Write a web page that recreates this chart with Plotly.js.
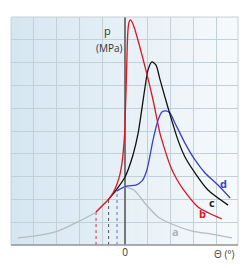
<!DOCTYPE html>
<html><head><meta charset="utf-8">
<script src="https://cdn.plot.ly/plotly-3.0.1.min.js"></script>
<style>html,body{margin:0;padding:0;background:#fff}#chart{width:250px;height:268px}</style>
</head><body><div id="chart"></div>
<script>
// curve a (grey)
const aX = [-4.7,-4.0,-2.95,-2.1,-1.27,-0.75,-0.35,0,0.4,0.9,1.45,2.05,2.95,3.8,4.7];
const aY = [0.31,0.39,0.61,1.0,1.45,1.97,2.37,2.54,2.4,1.8,1.23,0.92,0.61,0.48,0.31];
// curve b (red)
const bX = [-1.27,-1.01,-0.75,-0.53,-0.35,-0.22,-0.13,-0.07,-0.02,0.01,0.04,0.07,0.1,0.13,0.18,0.24,0.33,0.44,0.88,1.23,1.54,1.75,1.97,2.24,2.54,3.2,4.25];
const bY = [1.45,1.71,1.97,2.28,2.68,3.11,3.6,4.17,4.82,5.7,6.58,7.68,8.77,9.43,9.78,9.87,9.74,9.43,7.81,6.36,4.87,4.17,3.51,2.94,2.46,1.67,1.14];
// curve c (black)
const cX = [-0.75,-0.35,0,0.35,0.57,0.88,1.01,1.18,1.36,1.54,1.89,2.32,2.63,3.07,3.64,4.52];
const cY = [1.97,2.46,2.98,3.95,4.87,6.93,7.68,8.03,7.89,7.24,6.01,4.61,3.86,3.16,2.41,1.75];
// curve d (blue)
const dX = [-0.35,-0.13,0.13,0.48,0.75,0.96,1.23,1.45,1.62,1.8,1.97,2.19,2.63,3.07,3.51,4.08,4.61];
const dY = [2.37,2.5,2.59,2.63,2.81,3.29,4.61,5.48,5.83,5.88,5.79,5.35,4.47,3.73,3.16,2.63,2.06];
// branch points (dotted drop lines)
const dropX = [-1.27,-0.72,-0.35];
const dropTop = [1.45,2.0,2.37];
const dropColors = ['#e0303a','#555555','#6a70d0'];
// tick labels
const xTickVals = [-5,-4,-3,-2,-1,0,1,2,3,4];
const xTickText = ['','','','','','0','','','',''];
// labels
const curveLabels = ['a','b','c','d'];
const labelX = [2.2,3.4,3.82,4.3];
const labelY = [0.6,1.4,1.85,2.7];
const labelColors = ['#aab4ba','#e3141e','#222222','#3b3fc8'];

const traces = [];
dropX.forEach((x,i)=>{
  traces.push({x:[x,x],y:[0,dropTop[i]],mode:'lines',line:{color:dropColors[i],width:1,dash:'dot'},hoverinfo:'skip'});
});
traces.push({x:aX,y:aY,mode:'lines',line:{color:'#b3bcc1',width:1.3,shape:'spline',smoothing:0.7}});
traces.push({x:dX,y:dY,mode:'lines',line:{color:'#3b3fc8',width:1.3,shape:'spline',smoothing:0.7}});
traces.push({x:cX,y:cY,mode:'lines',line:{color:'#111111',width:1.3,shape:'spline',smoothing:0.7}});
traces.push({x:bX,y:bY,mode:'lines',line:{color:'#e3141e',width:1.3,shape:'spline',smoothing:0.6}});

// background gradient strips
const shapes = [];
const N = 40;
const c0 = [214,230,241], c1 = [246,250,252];
for (let i=0;i<N;i++){
  const t = i/(N-1);
  const c = c0.map((v,k)=>Math.round(v+(c1[k]-v)*t));
  shapes.push({type:'rect',xref:'x domain',yref:'y domain',x0:i/N,x1:(i+1)/N+0.002,y0:0,y1:1,
    fillcolor:`rgb(${c[0]},${c[1]},${c[2]})`,line:{width:0},layer:'below'});
}
shapes.push({type:'rect',xref:'x domain',yref:'y domain',x0:0,x1:1,y0:0,y1:1,line:{color:'#c8d0d6',width:1},fillcolor:'rgba(0,0,0,0)',layer:'above'});
shapes.push({type:'line',xref:'x domain',yref:'y domain',x0:0,x1:1,y0:0,y1:0,line:{color:'#777',width:1.2},layer:'above'});

const annotations = [
  {x:-0.75,y:9.39,xref:'x',yref:'y',text:'p',showarrow:false,yanchor:'middle',font:{family:'Open Sans, sans-serif',size:11,color:'#333'}},
  {x:-0.66,y:8.64,xref:'x',yref:'y',text:'(MPa)',showarrow:false,yanchor:'middle',font:{family:'Open Sans, sans-serif',size:10,color:'#333'}},
  {x:0.995,y:-0.04,xref:'paper',yref:'paper',text:'Θ (°)',showarrow:false,xanchor:'right',yanchor:'middle',font:{family:'Open Sans, sans-serif',size:10,color:'#444'}}
];
curveLabels.forEach((t,i)=>annotations.push({x:labelX[i],y:labelY[i],xref:'x',yref:'y',text:'<b>'+t+'</b>',showarrow:false,
  font:{family:'Open Sans, sans-serif',size:11,color:labelColors[i]}}));

const layout = {
  width:250,height:268,margin:{l:11,r:12,t:17,b:23},
  paper_bgcolor:'#ffffff',plot_bgcolor:'rgba(0,0,0,0)',showlegend:false,
  xaxis:{range:[-5,4.956],tickmode:'array',tickvals:xTickVals,ticktext:xTickText,showgrid:true,gridcolor:'#c3d0d8',gridwidth:1,
    zeroline:true,zerolinecolor:'#777',zerolinewidth:1.5,ticks:'',
    tickfont:{family:'Open Sans, sans-serif',size:10,color:'#333'},fixedrange:true},
  yaxis:{range:[0,10],tickmode:'linear',tick0:0,dtick:1,showticklabels:false,showgrid:true,gridcolor:'#c3d0d8',gridwidth:1,
    zeroline:false,ticks:'',fixedrange:true},
  shapes:shapes,annotations:annotations
};
Plotly.newPlot('chart',traces,layout,{staticPlot:true,displayModeBar:false});
</script></body></html>
